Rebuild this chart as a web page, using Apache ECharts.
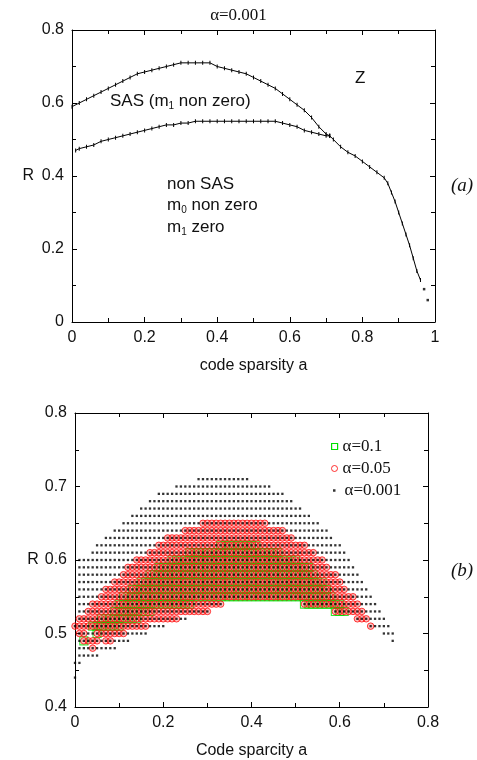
<!DOCTYPE html>
<html>
<head>
<meta charset="utf-8">
<script src="https://cdn.jsdelivr.net/npm/echarts@6/dist/echarts.min.js"></script>
<style>html,body{margin:0;padding:0;background:#fff}#c{width:477px;height:760px}</style>
</head>
<body>
<div id="c"></div>
<script>
// ---------- panel (a): alpha = 0.001 phase boundaries ----------
const sasA = [0.00,0.02,0.04,0.06,0.08,0.10,0.12,0.14,0.16,0.18,0.20,0.22,0.24,0.26,0.28,0.30,0.32,0.34,0.36,0.38,0.40,0.42,0.44,0.46,0.48,0.50,0.52,0.54,0.56,0.58,0.60,0.62,0.64,0.66,0.68,0.70,0.71];
const sasR = [0.59,0.60,0.61,0.62,0.63,0.64,0.65,0.66,0.67,0.68,0.685,0.69,0.695,0.70,0.705,0.71,0.71,0.71,0.71,0.71,0.70,0.695,0.69,0.685,0.68,0.67,0.66,0.65,0.64,0.625,0.61,0.595,0.58,0.56,0.535,0.515,0.51];
const m1A = [0.01,0.02,0.04,0.06,0.08,0.10,0.12,0.14,0.16,0.18,0.20,0.22,0.24,0.26,0.28,0.30,0.32,0.34,0.36,0.38,0.40,0.42,0.44,0.46,0.48,0.50,0.52,0.54,0.56,0.58,0.60,0.62,0.64,0.66,0.68,0.70,0.71];
const m1R = [0.47,0.475,0.48,0.485,0.495,0.50,0.505,0.51,0.515,0.52,0.525,0.53,0.535,0.54,0.54,0.545,0.545,0.55,0.55,0.55,0.55,0.55,0.55,0.55,0.55,0.55,0.55,0.55,0.55,0.545,0.54,0.535,0.525,0.52,0.515,0.51,0.51];
const zA = [0.71,0.72,0.74,0.76,0.78,0.80,0.82,0.84,0.86,0.87,0.88,0.89,0.90,0.91,0.92,0.93,0.94,0.95,0.96];
const zR = [0.51,0.50,0.48,0.465,0.455,0.44,0.425,0.41,0.395,0.38,0.355,0.33,0.30,0.27,0.24,0.21,0.175,0.14,0.115];
const tailA = [0.97,0.98];
const tailR = [0.09,0.06];

// ---------- panel (b): grid rows (R) and read a-ranges per row ----------
const rowR = [0.71,0.70,0.69,0.68,0.67,0.66,0.65,0.64,0.63,0.62,0.61,0.60,0.59,0.58,0.57,0.56,0.55,0.54,0.53,0.52,0.51,0.50,0.49,0.48,0.47,0.46,0.44];
const seg001 = [
 [[0.28,0.39]],[[0.23,0.44]],[[0.19,0.47]],[[0.17,0.49]],[[0.15,0.51]],[[0.13,0.53]],
 [[0.11,0.55]],[[0.09,0.57]],[[0.07,0.58]],[[0.05,0.60]],[[0.04,0.61]],[[0.01,0.62]],
 [[0.01,0.63]],[[0.01,0.64]],[[0.01,0.65]],[[0.01,0.66]],[[0.01,0.67]],
 [[0.01,0.33],[0.52,0.68]],[[0.01,0.30],[0.59,0.69]],[[0.01,0.25],[0.64,0.70]],
 [[0.00,0.20],[0.67,0.71]],[[0.01,0.16],[0.70,0.72]],[[0.01,0.12],[0.72,0.72]],
 [[0.01,0.09]],[[0.01,0.05]],[[0.00,0.01]],[[0.00,0.00]]
];
const seg005 = [
 [],[],[],[],[],[],
 [[0.29,0.43]],[[0.25,0.47]],[[0.21,0.49]],[[0.19,0.52]],[[0.17,0.54]],[[0.14,0.56]],
 [[0.12,0.57]],[[0.11,0.59]],[[0.09,0.60]],[[0.07,0.61]],[[0.06,0.63]],
 [[0.04,0.33],[0.52,0.64]],[[0.03,0.30],[0.59,0.65]],[[0.01,0.23],[0.64,0.66]],
 [[0.00,0.16],[0.67,0.67]],[[0.01,0.02],[0.05,0.11]],[[0.02,0.05],[0.07,0.08]],
 [[0.04,0.04]],[],[],[]
];
const seg01 = [
 [],[],[],[],[],[],
 [],[],[],[[0.33,0.41]],[[0.26,0.46]],[[0.22,0.50]],
 [[0.19,0.53]],[[0.17,0.54]],[[0.15,0.56]],[[0.13,0.57]],[[0.11,0.58]],
 [[0.10,0.26],[0.52,0.60]],[[0.09,0.17],[0.59,0.61]],[[0.06,0.14]],
 [[0.04,0.10]],[[0.05,0.05]],[[0.02,0.02]],
 [],[],[],[]
];

function pairs(xs, ys){ return xs.map((x,i)=>[x, ys[i]]); }
function gridPoints(segs){
  const out = [];
  segs.forEach((row, i) => {
    row.forEach(s => {
      for (let k = Math.round(s[0]*100); k <= Math.round(s[1]*100); k++) out.push([k/100, rowR[i]]);
    });
  });
  return out;
}

const SANS = 'Liberation Sans';
const SERIF = 'Liberation Serif';
const TXT = '#111';
const GREEN = '#00e000';
const lbl = {color: TXT, fontFamily: SANS, fontSize: 16};
function axisBase(extra){
  return Object.assign({
    axisLine: {show: true, onZero: false, lineStyle: {color: '#000', width: 1}},
    axisTick: {show: true, inside: true, length: 5, lineStyle: {color: '#000'}},
    minorTick: {show: true, splitNumber: 2, length: 4, lineStyle: {color: '#000'}},
    splitLine: {show: false},
    axisLabel: Object.assign({margin: 8}, lbl),
    nameTextStyle: lbl
  }, extra);
}
function mirror(extra){
  return axisBase(Object.assign({axisLabel: {show: false}}, extra));
}
const fmt = v => (Math.round(v*10)/10).toString();
const sub = {n: {fontFamily: SANS, fontSize: 17, lineHeight: 20, fill: TXT}, s: {fontFamily: SANS, fontSize: 10, lineHeight: 10, verticalAlign: 'bottom', fill: TXT}};
const legendText = {fontFamily: SERIF, fontSize: 17, color: TXT};

const chart = echarts.init(document.getElementById('c'));
chart.setOption({
  animation: false,
  backgroundColor: '#fff',
  title: {text: 'α=0.001', left: 'center', top: 2, textStyle: {fontFamily: SERIF, fontSize: 17, fontWeight: 'normal', color: TXT}},
  grid: [
    {left: 72, top: 30, width: 363, height: 292},
    {left: 75, top: 413, width: 353, height: 294}
  ],
  xAxis: [
    axisBase({gridIndex: 0, type: 'value', min: 0, max: 1, interval: 0.2, name: 'code sparsity a', nameLocation: 'middle', nameGap: 36, axisLabel: Object.assign({margin: 8, formatter: fmt}, lbl)}),
    mirror({gridIndex: 0, type: 'value', min: 0, max: 1, interval: 0.2, position: 'top'}),
    axisBase({gridIndex: 1, type: 'value', min: 0, max: 0.8, interval: 0.2, name: 'Code sparcity a', nameLocation: 'middle', nameGap: 36, axisLabel: Object.assign({margin: 8, formatter: fmt}, lbl)}),
    mirror({gridIndex: 1, type: 'value', min: 0, max: 0.8, interval: 0.2, position: 'top'})
  ],
  yAxis: [
    axisBase({gridIndex: 0, type: 'value', min: 0, max: 0.8, interval: 0.2, name: 'R', nameLocation: 'middle', nameGap: 38, nameRotate: 0, axisLabel: Object.assign({margin: 8, formatter: fmt}, lbl)}),
    mirror({gridIndex: 0, type: 'value', min: 0, max: 0.8, interval: 0.2, position: 'right'}),
    axisBase({gridIndex: 1, type: 'value', min: 0.4, max: 0.8, interval: 0.1, name: 'R', nameLocation: 'middle', nameGap: 36, nameRotate: 0, axisLabel: Object.assign({margin: 8, formatter: fmt}, lbl)}),
    mirror({gridIndex: 1, type: 'value', min: 0.4, max: 0.8, interval: 0.1, position: 'right'})
  ],
  legend: [
    {left: 326, top: 433, itemWidth: 6, itemHeight: 6, itemGap: 0, textStyle: legendText,
     data: [{name: 'α=0.1', icon: 'path://M1,1H9V9H1Z', itemStyle: {color: 'rgba(255,255,255,0)', borderColor: GREEN, borderWidth: 1.2, opacity: 1}}]},
    {left: 326, top: 455, itemWidth: 6, itemHeight: 6, itemGap: 0, textStyle: legendText,
     data: [{name: 'α=0.05', icon: 'circle', itemStyle: {color: 'rgba(255,255,255,0)', borderColor: '#ff0000', borderWidth: 1}}]},
    {left: 328, top: 477, itemWidth: 2.5, itemHeight: 2.5, itemGap: 0, textStyle: Object.assign({padding: [0,0,0,4]}, legendText),
     data: [{name: 'α=0.001', icon: 'rect', itemStyle: {color: '#000'}}]}
  ],
  series: [
    {type: 'line', name: 'SAS', xAxisIndex: 0, yAxisIndex: 0, data: pairs(sasA, sasR), symbol: 'rect', symbolSize: [1, 4], itemStyle: {color: '#000'}, lineStyle: {color: '#000', width: 1}},
    {type: 'line', name: 'm1', xAxisIndex: 0, yAxisIndex: 0, data: pairs(m1A, m1R), symbol: 'rect', symbolSize: [1, 4], itemStyle: {color: '#000'}, lineStyle: {color: '#000', width: 1}},
    {type: 'line', name: 'Z', xAxisIndex: 0, yAxisIndex: 0, data: pairs(zA, zR), symbol: 'rect', symbolSize: [1, 4], itemStyle: {color: '#000'}, lineStyle: {color: '#000', width: 1}},
    {type: 'scatter', name: 'tail', xAxisIndex: 0, yAxisIndex: 0, data: pairs(tailA, tailR), symbol: 'rect', symbolSize: 2.5, itemStyle: {color: '#000'}},
    {type: 'scatter', name: 'α=0.1', xAxisIndex: 2, yAxisIndex: 2, data: gridPoints(seg01), symbol: 'rect', symbolSize: 8, itemStyle: {color: 'rgba(0,0,0,0)', borderColor: GREEN, borderWidth: 1.1}},
    {type: 'scatter', name: 'α=0.05', xAxisIndex: 2, yAxisIndex: 2, data: gridPoints(seg005), symbol: 'circle', symbolSize: 6.5, itemStyle: {color: 'rgba(255,60,60,0.4)', borderColor: '#ff0a0a', borderWidth: 1}},
    {type: 'scatter', name: 'α=0.001', xAxisIndex: 2, yAxisIndex: 2, data: gridPoints(seg001), symbol: 'rect', symbolSize: 2.3, itemStyle: {color: '#000'}}
  ],
  graphic: [
    {type: 'text', left: 110, top: 93, style: {text: '{n|SAS (m}{s|1}{n| non zero)}', rich: sub}},
    {type: 'text', left: 355, top: 70, style: {text: 'Z', fontFamily: SANS, fontSize: 17, fill: TXT}},
    {type: 'text', left: 167, top: 176, style: {text: 'non SAS', fontFamily: SANS, fontSize: 17, fill: TXT}},
    {type: 'text', left: 167, top: 197, style: {text: '{n|m}{s|0}{n| non zero}', rich: sub}},
    {type: 'text', left: 167, top: 219, style: {text: '{n|m}{s|1}{n| zero}', rich: sub}},
    {type: 'text', left: 451, top: 176, style: {text: '(a)', fontFamily: SERIF, fontStyle: 'italic', fontSize: 19, fill: TXT}},
    {type: 'text', left: 451, top: 561, style: {text: '(b)', fontFamily: SERIF, fontStyle: 'italic', fontSize: 19, fill: TXT}}
  ]
});
</script>
</body>
</html>
